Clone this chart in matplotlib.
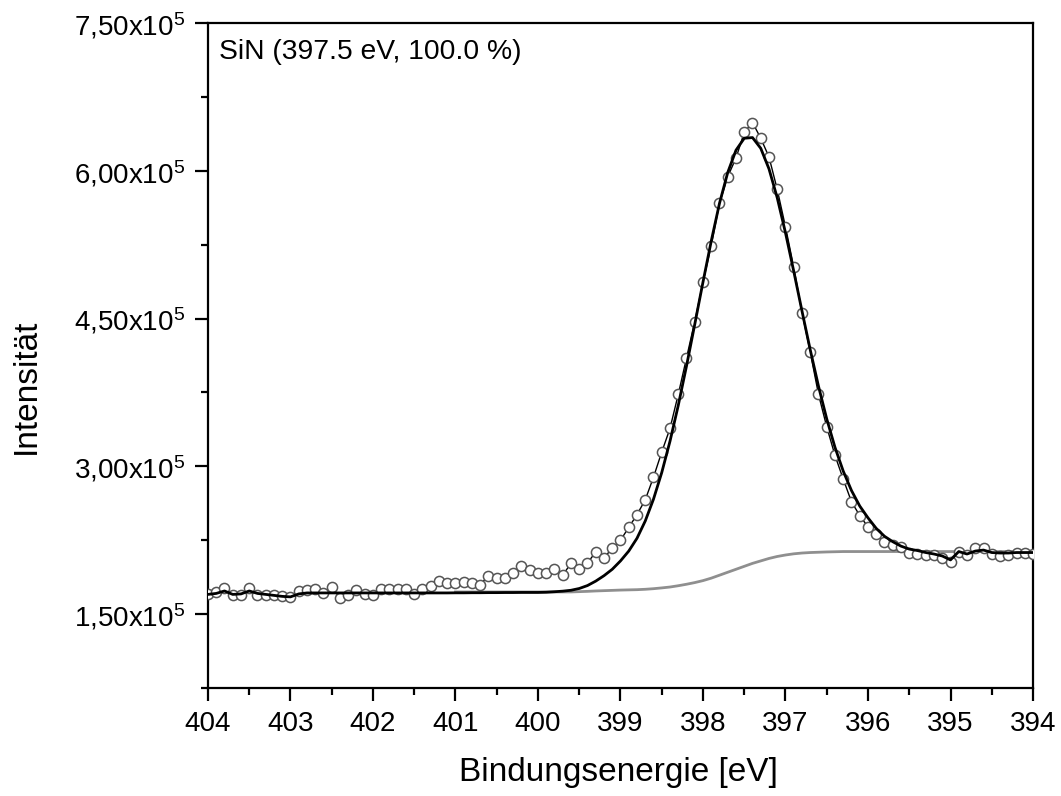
import matplotlib.pyplot as plt
import numpy as np
from matplotlib.ticker import MultipleLocator, FixedLocator, FuncFormatter

plt.rcParams['font.family'] = 'Liberation Sans'
plt.rcParams['mathtext.fontset'] = 'custom'
plt.rcParams['mathtext.rm'] = 'Liberation Sans'
plt.rcParams['mathtext.default'] = 'regular'

# binding energy grid (eV), measured every 0.1 eV
energy = np.linspace(404, 394, 101)

# measured intensity (x1e5), 404.0 -> 394.0
counts = [1.70, 1.72, 1.76, 1.69, 1.69, 1.76, 1.69, 1.69, 1.69, 1.68,
          1.67, 1.73, 1.74, 1.75, 1.71, 1.78, 1.66, 1.69, 1.74, 1.70,
          1.69, 1.75, 1.75, 1.75, 1.75, 1.70, 1.75, 1.79, 1.84, 1.82,
          1.82, 1.83, 1.82, 1.80, 1.89, 1.87, 1.87, 1.915, 1.99, 1.95,
          1.92, 1.92, 1.956, 1.895, 2.017, 1.96, 2.02, 2.13, 2.07, 2.17,
          2.25, 2.38, 2.51, 2.66, 2.89, 3.145, 3.385, 3.73, 4.10, 4.47,
          4.87, 5.24, 5.67, 5.94, 6.13, 6.39, 6.49, 6.33, 6.14, 5.81,
          5.43, 5.02, 4.56, 4.16, 3.73, 3.40, 3.11, 2.87, 2.64, 2.50,
          2.385, 2.31, 2.23, 2.20, 2.18, 2.125, 2.11, 2.10, 2.10, 2.07,
          2.03, 2.13, 2.10, 2.17, 2.17, 2.11, 2.09, 2.10, 2.125, 2.125,
          2.11]

# fit envelope (x1e5), same grid
envelope = [1.70, 1.71, 1.735, 1.70, 1.705, 1.735, 1.71, 1.70, 1.69, 1.68,
            1.675, 1.705, 1.715, 1.715, 1.715, 1.715, 1.715, 1.715, 1.715, 1.715,
            1.715, 1.715, 1.715, 1.715, 1.715, 1.715, 1.715, 1.715, 1.715, 1.715,
            1.716, 1.716, 1.717, 1.717, 1.718, 1.718, 1.719, 1.719, 1.72, 1.72,
            1.72, 1.722, 1.727, 1.733, 1.742, 1.76, 1.79, 1.835, 1.89, 1.955,
            2.04, 2.14, 2.27, 2.445, 2.667, 2.937, 3.255, 3.618, 4.018, 4.441,
            4.871, 5.287, 5.670, 5.983, 6.209, 6.330, 6.337, 6.228, 6.019, 5.725,
            5.370, 4.980, 4.576, 4.182, 3.813, 3.481, 3.192, 2.951, 2.754, 2.597,
            2.477, 2.37, 2.29, 2.235, 2.19, 2.16, 2.145, 2.125, 2.11, 2.09,
            2.05, 2.135, 2.11, 2.14, 2.15, 2.125, 2.12, 2.12, 2.125, 2.125,
            2.125]

# background (x1e5), 401.0 -> 394.0
bg_energy = np.linspace(401, 394, 71)
background = [1.725, 1.725, 1.725, 1.725, 1.725, 1.725, 1.725, 1.725, 1.725, 1.725,
              1.725, 1.725, 1.725, 1.725, 1.725,
              1.728, 1.731, 1.735, 1.738, 1.741, 1.744, 1.746, 1.748, 1.752, 1.758,
              1.766, 1.775, 1.788, 1.803, 1.82, 1.84, 1.865, 1.895, 1.925, 1.955,
              1.985, 2.015, 2.04, 2.065, 2.085, 2.10, 2.112, 2.12, 2.125, 2.128,
              2.131, 2.133,
              2.135, 2.135, 2.135, 2.135, 2.135, 2.135, 2.135, 2.135, 2.135, 2.135,
              2.135, 2.135, 2.135, 2.135, 2.135, 2.135, 2.135, 2.135, 2.135, 2.135,
              2.135, 2.135, 2.135, 2.135]

x_ticks = [404, 403, 402, 401, 400, 399, 398, 397, 396, 395, 394]
y_ticks = [1.5e5, 3.0e5, 4.5e5, 6.0e5, 7.5e5]
label_text = "SiN (397.5 eV, 100.0 %)"

scale = 1e5

fig = plt.figure(figsize=(10.61, 7.96), dpi=100)
ax = fig.add_axes([0.19604, 0.13568, 0.77757, 0.83543])

ax.plot(bg_energy, np.array(background) * scale, color='#8f8f8f', lw=2, zorder=2)
ax.plot(energy, np.array(counts) * scale, color='black', lw=1, zorder=3)
ax.plot(energy, np.array(counts) * scale, ls='none', marker='o', ms=7.3,
        mfc='white', mec='#555555', mew=1.1, zorder=4)
ax.plot(energy, np.array(envelope) * scale, color='black', lw=2, zorder=5)

ax.set_xlim(404, 394)
ax.set_ylim(0.75e5, 7.5e5)

ax.xaxis.set_major_locator(FixedLocator(x_ticks))
ax.xaxis.set_minor_locator(MultipleLocator(0.5))
ax.yaxis.set_major_locator(FixedLocator(y_ticks))
ax.yaxis.set_minor_locator(MultipleLocator(0.75e5))


def yfmt(v, pos):
    return ("%.2f" % (v / scale)).replace('.', ',') + "x10$^{5}$"


ax.yaxis.set_major_formatter(FuncFormatter(yfmt))

for s in ax.spines.values():
    s.set_linewidth(1.6)

ax.tick_params(which='both', direction='out', top=False, right=False, width=1.6)
ax.tick_params(which='major', length=9.5, labelsize=20, pad=7)
ax.tick_params(which='minor', length=5)

ax.set_xlabel("Bindungsenergie [eV]", fontsize=24)
ax.set_ylabel("Intensität", fontsize=24)
ax.xaxis.set_label_coords(0.498, -0.104)
ax.yaxis.set_label_coords(-0.2015, 0.454)

ax.text(0.013, 0.957, label_text, transform=ax.transAxes, fontsize=20.3,
        ha='left', va='center')

fig.savefig('out.png', dpi=100)
